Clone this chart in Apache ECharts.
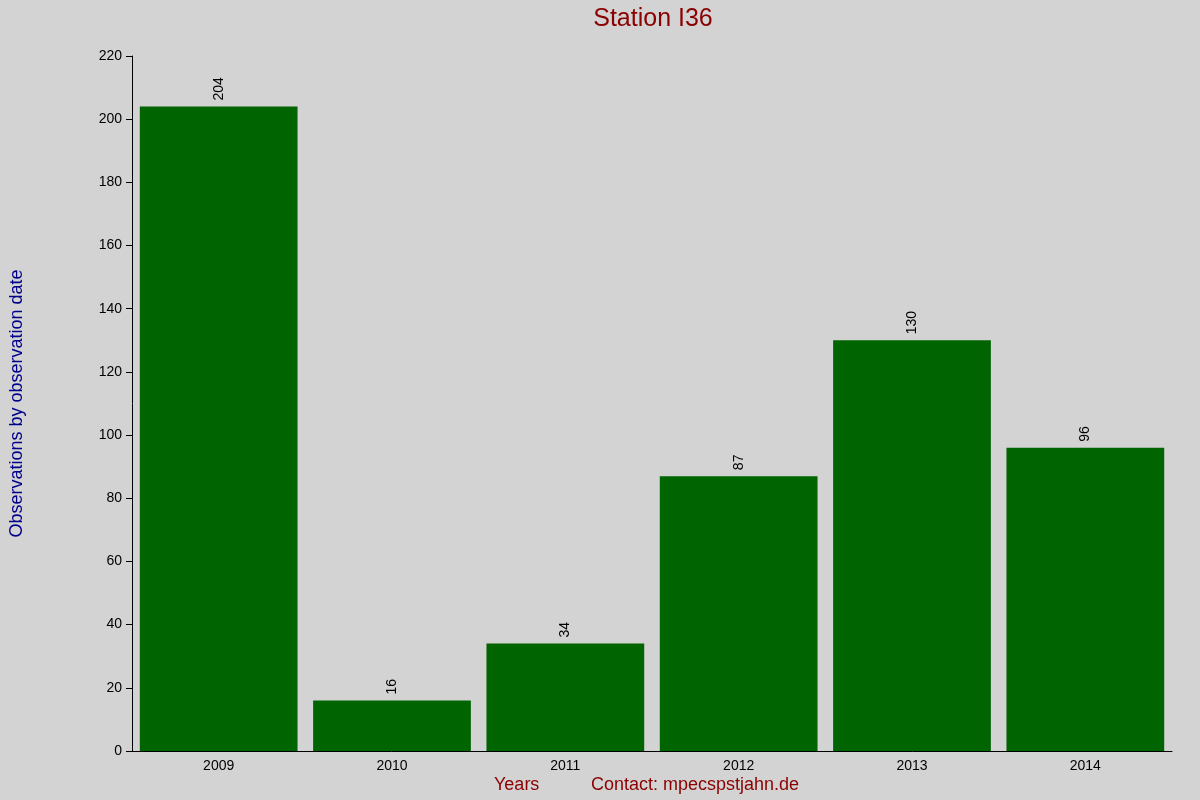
<!DOCTYPE html>
<html><head><meta charset="utf-8">
<script src="https://cdn.jsdelivr.net/npm/echarts@6/dist/echarts.min.js"></script>
<style>html,body{margin:0;padding:0;background:#d3d3d3}#c{width:1200px;height:800px}</style>
</head><body><div id="c"></div>
<script>
const years = ['2009','2010','2011','2012','2013','2014'];
const counts = [204,16,34,87,130,96];
const yTicks = {min:0,max:220,interval:20};
const chart = echarts.init(document.getElementById('c'));
chart.setOption({
  backgroundColor:'#d3d3d3',
  animation:false,
  title:{text:'Station I36',left:648,top:2,textAlign:'center',textStyle:{color:'#8b0000',fontSize:25,fontWeight:'normal',fontFamily:'Liberation Sans'}},
  graphic:[
    {type:'text',left:494,top:776,style:{text:'Years',fill:'#8b0000',font:'18px Liberation Sans'}},
    {type:'text',left:591,top:776,style:{text:'Contact: mpecspstjahn.de',fill:'#8b0000',font:'18px Liberation Sans'}}
  ],
  grid:{left:126,right:28,top:56,bottom:49},
  xAxis:{type:'category',data:years,axisLine:{lineStyle:{color:'#000'}},axisTick:{show:false},
    axisLabel:{color:'#000',fontSize:14,fontFamily:'Liberation Sans',margin:8}},
  yAxis:{type:'value',min:yTicks.min,max:yTicks.max,interval:yTicks.interval,
    name:'Observations by observation date',nameLocation:'middle',nameGap:106,nameRotate:90,
    nameTextStyle:{color:'#00008b',fontSize:18,fontFamily:'Liberation Sans'},
    axisLine:{show:true,lineStyle:{color:'#000'}},axisTick:{show:true,length:6,lineStyle:{color:'#000'}},
    splitLine:{show:false},axisLabel:{color:'#000',fontSize:14,fontFamily:'Liberation Sans',margin:10}},
  series:[{type:'bar',data:counts,barCategoryGap:'9%',itemStyle:{color:'#006400'},
    label:{show:true,position:'top',rotate:90,align:'left',verticalAlign:'middle',distance:6,color:'#000',fontSize:14,fontFamily:'Liberation Sans'}}]
});
</script></body></html>
